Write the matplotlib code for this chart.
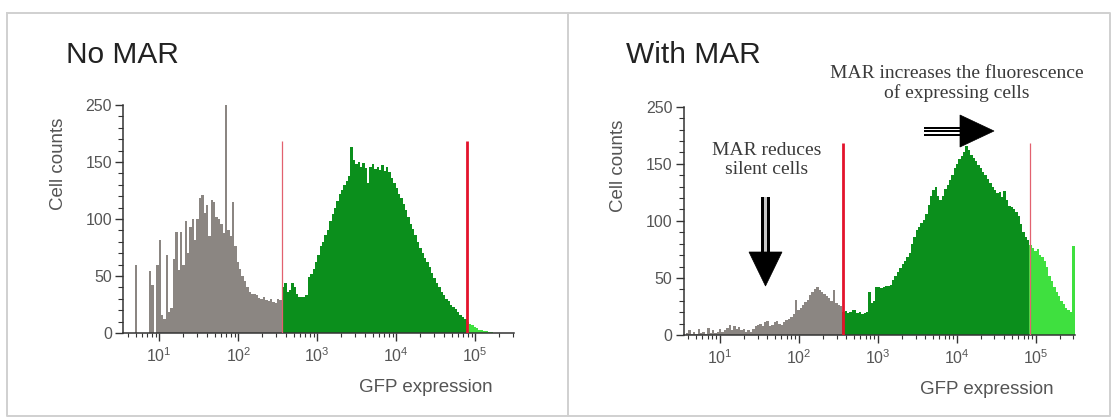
import numpy as np
import matplotlib
matplotlib.use("Agg")
import matplotlib.pyplot as plt
from matplotlib.patches import Polygon, Rectangle
from matplotlib.ticker import (FixedLocator, LogFormatterMathtext, LogLocator,
                               MultipleLocator, NullFormatter)

plt.rcParams["font.family"] = ["Liberation Sans", "DejaVu Sans"]

# histogram channels: log10 grid, first edge and width of one channel
LOG_START = 0.54
LOG_STEP = 0.03

# cell counts per channel
no_mar_counts = [
    0, 0, 0, 0, 0, 60, 0, 0, 0, 0,
    0, 54, 42, 0, 60, 82, 16, 12, 68, 18,
    22, 65, 89, 55, 89, 60, 98, 70, 93, 100,
    82, 100, 118, 121, 105, 112, 85, 117, 115, 102,
    100, 96, 88, 200, 90, 85, 115, 76, 62, 56,
    50, 46, 40, 36, 34, 34, 33, 31, 30, 32,
    29, 28, 30, 27, 26, 30, 29, 40, 44, 36,
    38, 44, 40, 34, 32, 32, 32, 33, 49, 52,
    56, 62, 68, 76, 80, 86, 90, 98, 104, 110,
    116, 122, 125, 130, 133, 138, 163, 152, 148, 150,
    146, 149, 145, 132, 146, 148, 144, 146, 143, 147,
    142, 146, 141, 136, 132, 127, 122, 118, 113, 108,
    102, 96, 91, 86, 80, 75, 70, 66, 62, 58,
    53, 48, 44, 40, 36, 33, 30, 28, 25, 23,
    21, 18, 16, 14, 12, 10, 8, 7, 5, 4,
    3, 3, 2, 2, 1, 1, 0, 0, 0, 0,
    0, 0, 0, 0, 0,
]
with_mar_counts = [
    0, 2, 4, 1, 3, 1, 5, 2, 3, 1,
    6, 2, 4, 2, 3, 5, 3, 4, 6, 9,
    4, 8, 5, 7, 4, 5, 3, 4, 3, 5,
    8, 9, 10, 8, 11, 12, 8, 9, 11, 12,
    10, 9, 11, 13, 14, 16, 18, 31, 22, 24,
    26, 29, 31, 35, 38, 40, 42, 39, 38, 36,
    34, 32, 30, 39, 28, 26, 25, 20, 21, 19,
    20, 22, 22, 19, 20, 18, 19, 20, 38, 28,
    30, 42, 42, 41, 42, 43, 43, 44, 48, 52,
    55, 59, 62, 65, 68, 72, 80, 86, 92, 95,
    98, 101, 106, 114, 122, 127, 130, 122, 118, 122,
    128, 131, 136, 140, 146, 150, 154, 157, 160, 166,
    162, 158, 155, 152, 149, 146, 143, 140, 137, 133,
    130, 127, 124, 125, 121, 126, 118, 113, 112, 110,
    108, 104, 97, 90, 86, 83, 79, 76, 74, 75,
    70, 68, 65, 60, 52, 47, 42, 38, 34, 30,
    27, 24, 22, 20, 78,
]

# gate positions (GFP) and height of the red gate lines
no_mar_gates = [355, 77600]
with_mar_gates = [365, 85000]
gate_top = 168

y_ticks = [0, 50, 100, 150, 200]
y_tick_labels = ["0", "50", "100", "150", "250"]
x_ticks = [1e1, 1e2, 1e3, 1e4, 1e5]

GRAY = "#8b8682"
GREEN = "#0b8f1c"
LIGHT_GREEN = "#3fe03f"
RED = "#e3132c"
RED_THIN = "#e2616f"
TEXT_GRAY = "#555555"

W, H = 1116, 419


def draw_panel(ax, counts, gates, thick_first):
    counts = np.asarray(counts, dtype=float)
    edges = 10 ** (LOG_START + LOG_STEP * np.arange(len(counts) + 1))
    centers = np.sqrt(edges[:-1] * edges[1:])
    lo, hi = np.searchsorted(centers, gates)
    for a, b, color in ((0, lo, GRAY), (lo, hi, GREEN), (hi, len(counts), LIGHT_GREEN)):
        ax.stairs(counts[a:b], edges[a:b + 1], fill=True, color=color, lw=0)

    widths = (2.0, 0.9) if thick_first else (0.9, 2.0)
    colors = (RED, RED_THIN) if thick_first else (RED_THIN, RED)
    for g, lw, c in zip(gates, widths, colors):
        ax.vlines(g, 0, gate_top, colors=c, lw=lw, zorder=3)

    ax.set_xscale("log")
    ax.set_xlim(edges[0], edges[-1])
    ax.set_ylim(0, 200)
    ax.set_facecolor("none")
    for side in ("top", "right"):
        ax.spines[side].set_visible(False)
    for side in ("left", "bottom"):
        ax.spines[side].set_color("#333333")
        ax.spines[side].set_linewidth(1.1)

    ax.xaxis.set_major_locator(FixedLocator(x_ticks))
    ax.xaxis.set_major_formatter(LogFormatterMathtext())
    ax.xaxis.set_minor_locator(LogLocator(base=10, subs=np.arange(2, 10)))
    ax.xaxis.set_minor_formatter(NullFormatter())
    ax.yaxis.set_major_locator(FixedLocator(y_ticks))
    ax.set_yticklabels(y_tick_labels)
    ax.yaxis.set_minor_locator(MultipleLocator(10))

    ax.tick_params(axis="x", which="major", direction="out", length=5.5, width=1.0,
                   pad=4, labelsize=11.5, labelcolor=TEXT_GRAY, color="#333333")
    ax.tick_params(axis="x", which="minor", direction="out", length=3.2, width=0.8,
                   color="#333333")
    ax.tick_params(axis="y", which="major", direction="out", length=6, width=1.0,
                   pad=2, labelsize=11.5, labelcolor=TEXT_GRAY, color="#333333")
    ax.tick_params(axis="y", which="minor", direction="out", length=3.5, width=0.8,
                   color="#333333")

    ax.set_xlabel("GFP expression", fontsize=13.5, color=TEXT_GRAY,
                  ha="right", va="center")
    ax.xaxis.set_label_coords(0.946, -0.24)
    ax.set_ylabel("Cell counts", fontsize=13.5, color=TEXT_GRAY,
                  ha="center", va="center")
    ax.yaxis.set_label_coords(-0.166, 0.74)


fig = plt.figure(figsize=(W / 100, H / 100), dpi=100)

ax_left = fig.add_axes([123 / W, 1 - 333 / H, 391 / W, 228 / H])
ax_right = fig.add_axes([683.5 / W, 1 - 335 / H, 391 / W, 228.3 / H])
draw_panel(ax_left, no_mar_counts, no_mar_gates, thick_first=False)
draw_panel(ax_right, with_mar_counts, with_mar_gates, thick_first=True)

# overlay in pixel coordinates for frames, titles and arrows
ov = fig.add_axes([0, 0, 1, 1], zorder=5)
ov.set_xlim(0, W)
ov.set_ylim(H, 0)
ov.axis("off")
ov.set_facecolor("none")

frame = dict(color="#d0d0d0", lw=1.4)
ov.plot([7, 1110, 1110, 7, 7], [13, 13, 416, 416, 13], **frame)
ov.plot([567.5, 567.5], [13, 416], **frame)

ov.text(66, 55, "No MAR", fontsize=21.5, color="#222222", va="center", ha="left")
ov.text(626, 55, "With MAR", fontsize=21.5, color="#222222", va="center", ha="left")

serif = dict(family=["Liberation Serif", "DejaVu Serif"], fontsize=14,
             color="#3a3a3a", ha="center", va="center", linespacing=1.2)
ov.text(957, 83.5, "MAR increases the fluorescence\nof expressing cells", **serif)
ov.text(767, 160, "MAR reduces\nsilent cells", **serif)

# down arrow (silent cells): black double-line shaft, filled head
ov.add_patch(Rectangle((761, 197), 9, 56, fc="black", lw=0))
ov.add_patch(Rectangle((764, 197), 3, 56, fc="#c8c8c8", lw=0))
ov.add_patch(Polygon([(749, 252), (782, 252), (765.5, 286)], closed=True,
                     fc="black", ec="black", lw=0.5))
# right arrow (expressing cells): triple-line shaft, filled head
ov.add_patch(Rectangle((924, 126.5), 37, 9, fc="black", lw=0))
ov.add_patch(Rectangle((924, 128.5), 37, 1.5, fc="white", lw=0))
ov.add_patch(Rectangle((924, 132), 37, 1.5, fc="white", lw=0))
ov.add_patch(Polygon([(960, 115), (960, 147), (994, 131)], closed=True,
                     fc="black", ec="black", lw=0.5))

fig.savefig("out.png", dpi=100)
